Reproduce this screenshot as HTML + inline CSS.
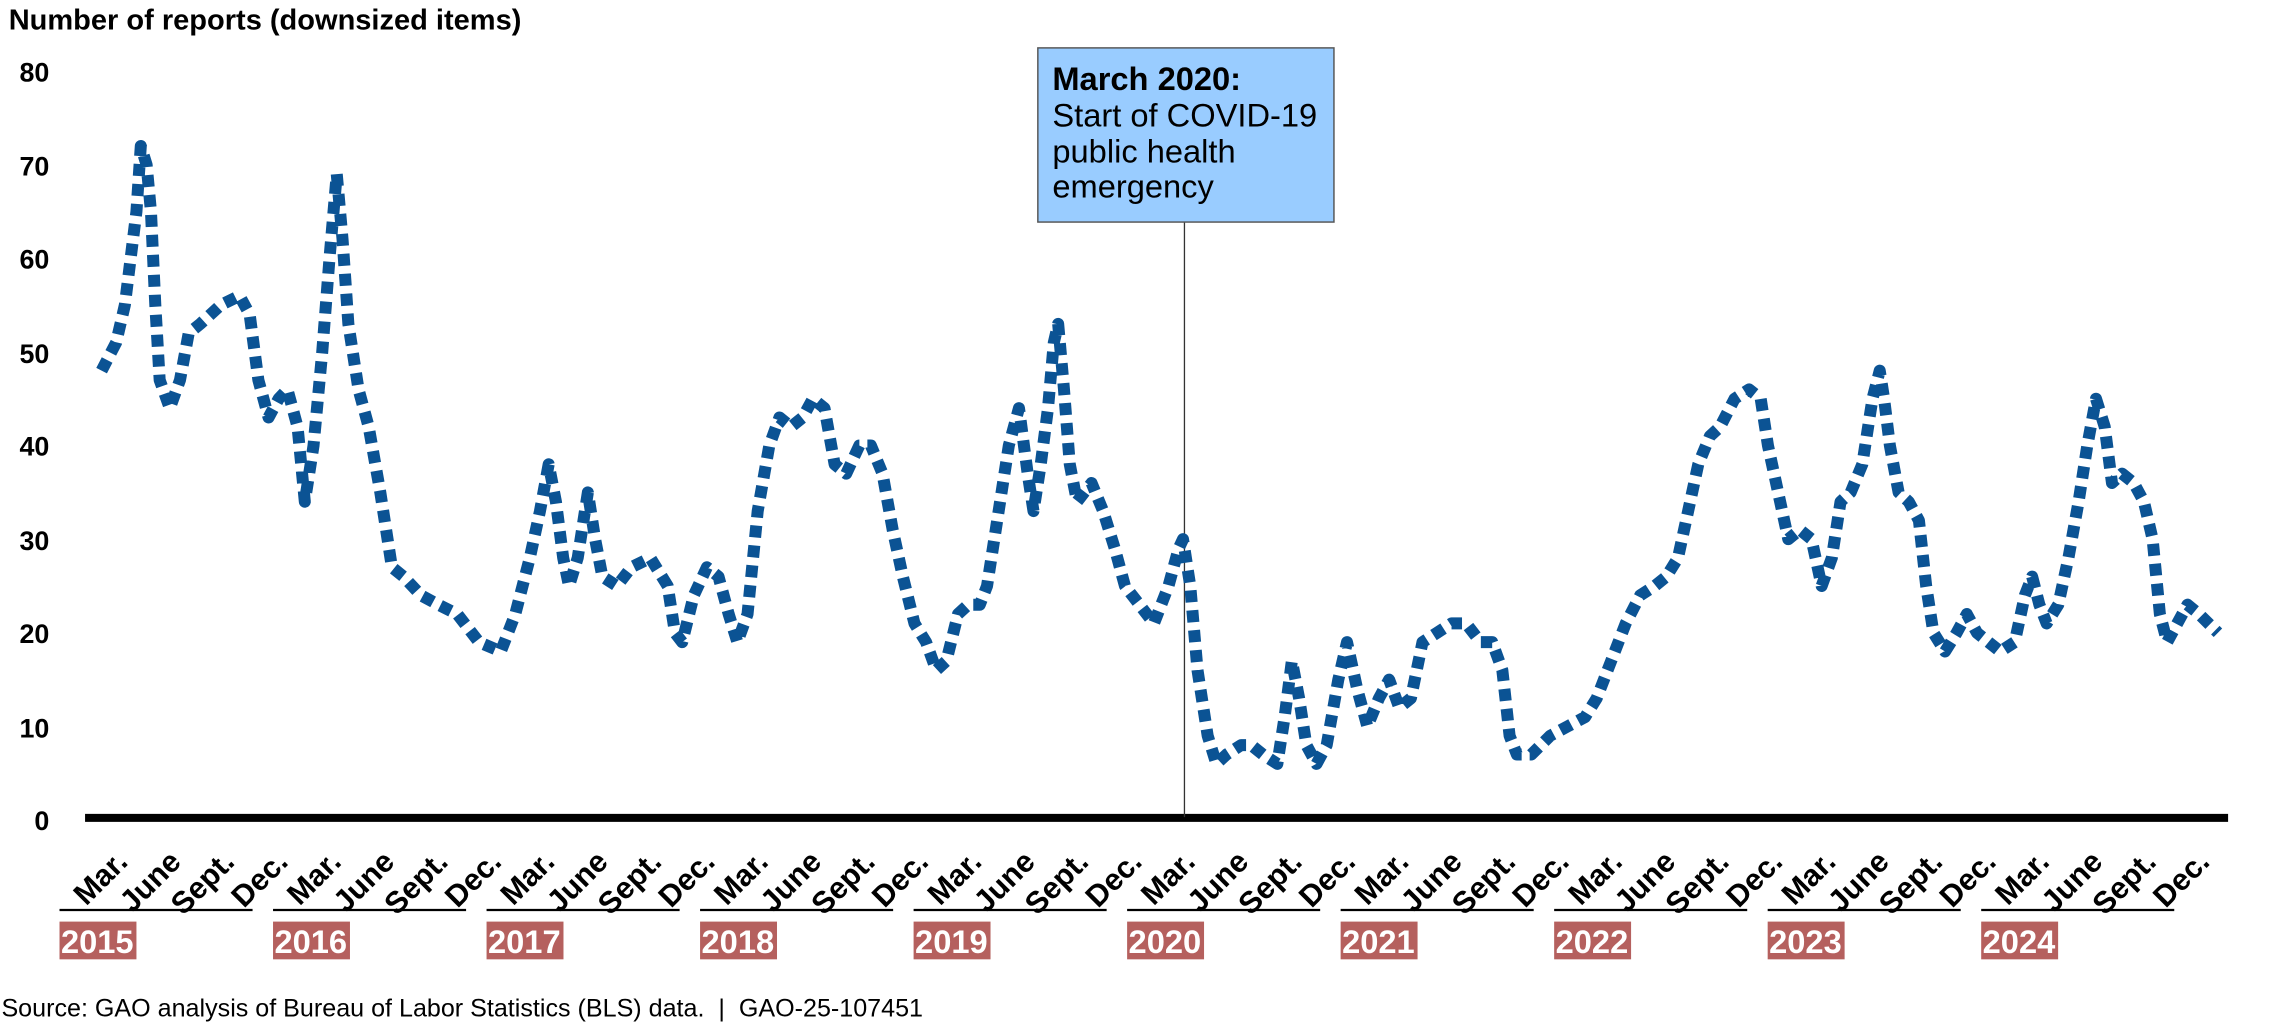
<!DOCTYPE html>
<html><head><meta charset="utf-8"><style>
html,body{margin:0;padding:0;background:#fff;}
svg{display:block;}
text{font-family:"Liberation Sans",Arial,sans-serif;}
</style></head><body>
<svg width="2276" height="1029" viewBox="0 0 1568 709" preserveAspectRatio="none" xmlns="http://www.w3.org/2000/svg">
<text x="6" y="20.5" font-size="20" font-weight="bold" fill="#000">Number of reports (downsized items)</text>
<g font-size="18.5" font-weight="bold" text-anchor="end" fill="#000">
<text x="34" y="56">80</text><text x="34" y="121">70</text><text x="34" y="185">60</text><text x="34" y="250">50</text>
<text x="34" y="314">40</text><text x="34" y="379">30</text><text x="34" y="443">20</text><text x="34" y="508">10</text><text x="34" y="572">0</text>
</g>
<line x1="58.6" y1="563.5" x2="1535" y2="563.5" stroke="#000" stroke-width="5.5"/>
<line x1="816" y1="153" x2="816" y2="563" stroke="#333" stroke-width="0.9"/>
<polyline fill="none" stroke="#0b5394" stroke-width="12" stroke-dasharray="12 8" vector-effect="non-scaling-stroke" stroke-linejoin="round"
transform="matrix(1 0 0 -6.45 0 565)"
points="70,48 80,51 86,55 90,60 94,65 97,72 101,70 104,65 107,55 110,47 117,44 124,47 130,52 138,53 152,55 165,56 172,54 178,47 185,43 192,45 198,46 205,42 210,34 216,40 222,50 227,60 232,69 236,62 240,53 247,46 254,42 262,35 270,27 278,26 290,24 302,23 315,22 330,19 345,18 355,22 365,28 372,33 378,38 383,34 388,28 392,25 398,28 405,35 410,30 415,26 425,25 435,27 448,28 460,25 465,20 470,19 478,24 487,27 495,26 502,22 508,19 515,22 522,33 530,40 537,43 545,42 553,43 560,45 568,44 575,38 583,37 592,40 600,40 608,37 615,31 622,26 630,21 638,19 645,16 652,17 660,22 667,23 675,23 680,25 688,33 695,40 702,44 708,37 712,33 717,38 722,44 726,51 729,53 733,46 737,38 742,34 752,36 760,33 768,29 775,25 785,23 795,21 805,25 812,29 815,30 820,25 825,16 832,9 838,6 845,7 855,8 862,8 870,7 880,6 885,11 890,17 895,13 900,8 907,6 914,8 922,15 928,19 935,14 942,10 950,13 957,15 964,12 972,13 980,19 990,20 1000,21 1010,21 1020,19 1028,19 1035,16 1040,9 1045,7 1055,7 1068,9 1080,10 1092,11 1100,13 1110,17 1120,21 1130,24 1140,25 1148,26 1156,28 1163,33 1170,38 1178,41 1185,42 1195,45 1205,46 1213,45 1218,40 1225,35 1232,30 1240,31 1248,30 1255,25 1262,28 1268,34 1275,35 1283,38 1290,45 1295,48 1298,45 1302,40 1308,35 1315,34 1322,32 1327,25 1332,20 1340,18 1348,20 1355,22 1362,20 1370,19 1378,18 1388,19 1395,24 1400,26 1405,23 1410,21 1418,23 1425,28 1432,34 1438,40 1444,45 1450,42 1455,36 1462,37 1470,36 1477,34 1483,30 1488,22 1493,19 1500,21 1507,23 1515,22 1528,20"/>
<rect x="715" y="33" width="204" height="120" fill="#99ccff" stroke="#555" stroke-width="1"/>
<text x="725" y="62" font-size="22.5" font-weight="bold" fill="#000">March 2020:</text>
<g font-size="22.5" fill="#000">
<text x="725" y="87">Start of COVID-19</text>
<text x="725" y="112">public health</text>
<text x="725" y="136">emergency</text>
</g>
<g id="yr0" font-size="21" font-weight="bold" fill="#000" text-anchor="end">
<text transform="translate(89,595) rotate(-45)">Mar.</text>
<text transform="translate(125.8,595) rotate(-45)">June</text>
<text transform="translate(162.6,595) rotate(-45)">Sept.</text>
<text transform="translate(199.4,595) rotate(-45)">Dec.</text>
<line x1="41" y1="627" x2="174" y2="627" stroke="#000" stroke-width="1.5"/>
<rect x="41" y="635" width="53" height="26" fill="#b5605e"/>
</g>
<use href="#yr0" x="147.1"/><use href="#yr0" x="294.2"/><use href="#yr0" x="441.3"/><use href="#yr0" x="588.4"/>
<use href="#yr0" x="735.5"/><use href="#yr0" x="882.6"/><use href="#yr0" x="1029.7"/><use href="#yr0" x="1176.8"/><use href="#yr0" x="1323.9"/>
<g font-size="22.5" font-weight="bold" fill="#fff">
<text x="42" y="656.5">2015</text><text x="189.1" y="656.5">2016</text><text x="336.2" y="656.5">2017</text><text x="483.3" y="656.5">2018</text><text x="630.4" y="656.5">2019</text>
<text x="777.5" y="656.5">2020</text><text x="924.6" y="656.5">2021</text><text x="1071.7" y="656.5">2022</text><text x="1218.8" y="656.5">2023</text><text x="1365.9" y="656.5">2024</text>
</g>
<text x="1" y="700.5" font-size="17.3" fill="#000">Source: GAO analysis of Bureau of Labor Statistics (BLS) data. &#160;| &#160;GAO-25-107451</text>
</svg>
</body></html>
